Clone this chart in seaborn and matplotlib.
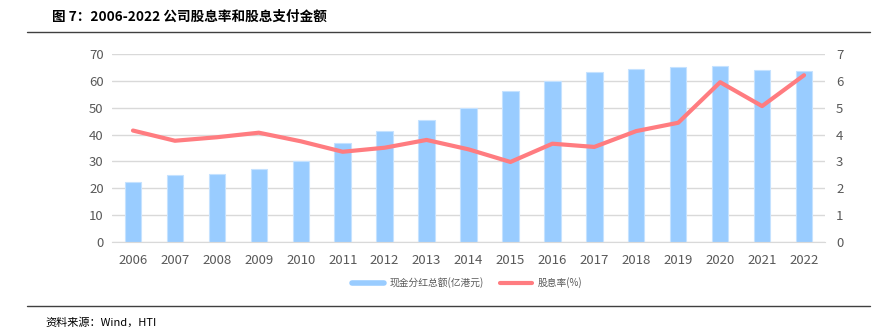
import matplotlib
matplotlib.use("Agg")
import matplotlib.pyplot as plt
import seaborn as sns
import pandas as pd
import numpy as np
from matplotlib.lines import Line2D

years = [str(y) for y in range(2006, 2023)]
dividend_total = [22.4, 24.8, 25.5, 27.0, 30.0, 36.9, 41.4, 45.6, 50.0, 56.2,
                  59.9, 63.2, 64.4, 65.3, 65.5, 64.0, 63.8]
dividend_yield = [4.15, 3.77, 3.90, 4.07, 3.75, 3.36, 3.51, 3.80, 3.45, 2.98,
                  3.66, 3.54, 4.13, 4.44, 5.95, 5.06, 6.21]
left_ticks = [0, 10, 20, 30, 40, 50, 60, 70]
right_ticks = [0, 1, 2, 3, 4, 5, 6, 7]

sns.set_style("white")
plt.rcParams['font.family'] = ['Noto Sans CJK SC', 'DejaVu Sans']

df = pd.DataFrame({"year": years, "total": dividend_total, "yield": dividend_yield})

fig = plt.figure(figsize=(8.73, 3.31), dpi=100)
ax = fig.add_axes([112/873, 1-242/331, (825-112)/873, (242-54)/331])

bar_color = "#99CCFF"
line_color = "#FF7C80"
tick_color = "#595959"

sns.barplot(data=df, x="year", y="total", color=bar_color, width=0.39,
            saturation=1, ax=ax, zorder=2, edgecolor="#C5E2FF", linewidth=0.8)
ax.set_ylim(0, 70)
ax.set_yticks(left_ticks)
ax.set_xlim(-0.5, len(years) - 0.5)
ax.grid(axis="y", color="#D9D9D9", linewidth=1, zorder=0)
ax.set_axisbelow(True)
for s in ["top", "right", "left"]:
    ax.spines[s].set_visible(False)
ax.spines["bottom"].set_color("#D9D9D9")
ax.set_xlabel("")
ax.set_ylabel("")
ax.tick_params(axis="both", length=0, labelsize=9.5, colors=tick_color, pad=6)
ax.tick_params(axis="x", pad=9)

ax2 = ax.twinx()
sns.lineplot(x=np.arange(len(years)), y=df["yield"], color=line_color,
             linewidth=3, ax=ax2, zorder=3)
ax2.set_ylim(0, 7)
ax2.set_yticks(right_ticks)
for s in ["top", "right", "left", "bottom"]:
    ax2.spines[s].set_visible(False)
ax2.set_ylabel("")
ax2.tick_params(axis="y", length=0, labelsize=9.5, colors=tick_color, pad=8)

handles = [Line2D([0], [0], color=bar_color, linewidth=4),
           Line2D([0], [0], color=line_color, linewidth=3)]
fig.legend(handles, ["现金分红总额(亿港元)", "股息率(%)"], loc="center",
           bbox_to_anchor=(467/873, 1-283/331), ncol=2, frameon=False,
           fontsize=7, labelcolor=tick_color, handlelength=3.3, columnspacing=1.6,
           handletextpad=0.6)

fig.text(52/873, 1-17/331, "图 7：2006-2022 公司股息率和股息支付金额",
         fontsize=9.8, fontweight="bold", va="center", ha="left", color="#000000")
fig.add_artist(Line2D([27/873, 870/873], [1-32/331, 1-32/331], color="#404040", linewidth=1))
fig.add_artist(Line2D([27/873, 870/873], [1-306/331, 1-306/331], color="#404040", linewidth=1))
fig.text(45/873, 1-322/331, "资料来源：Wind，HTI", fontsize=8, va="center",
         ha="left", color="#000000")

fig.savefig("out.png", dpi=100)
